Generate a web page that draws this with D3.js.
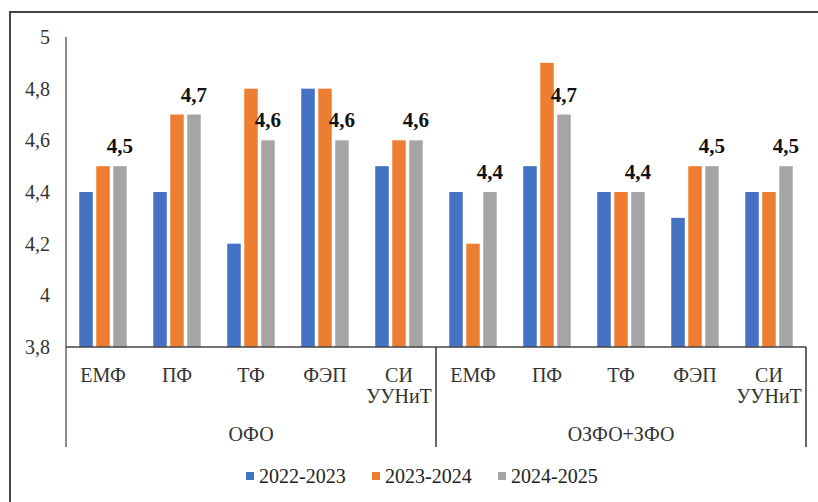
<!DOCTYPE html>
<html>
<head>
<meta charset="utf-8">
<script src="https://cdn.jsdelivr.net/npm/d3@7"></script>
<style>
  body { margin: 0; background: #fff; }
</style>
</head>
<body>
<div id="chart"></div>
<script>
// Data
const groups = ["ОФО", "ОЗФО+ЗФО"];
const categories = ["ЕМФ", "ПФ", "ТФ", "ФЭП", "СИ\nУУНиТ"];
const series = ["2022-2023", "2023-2024", "2024-2025"];
const colors = ["#4472C4", "#ED7D31", "#A5A5A5"];
const yTicks = [3.8, 4, 4.2, 4.4, 4.6, 4.8, 5];

// values per group, per category: [2022-2023, 2023-2024, 2024-2025]
const valuesOFO = [
    [4.4, 4.5, 4.5],
    [4.4, 4.7, 4.7],
    [4.2, 4.8, 4.6],
    [4.8, 4.8, 4.6],
    [4.5, 4.6, 4.6]
];
const valuesOZFO = [
    [4.4, 4.2, 4.4],
    [4.5, 4.9, 4.7],
    [4.4, 4.4, 4.4],
    [4.3, 4.5, 4.5],
    [4.4, 4.4, 4.5]
];

const width = 818;
const height = 502;
const plotLeft = 66, plotRight = 806, plotTop = 37, plotBottom = 347, axisDrop = 447;
const serif = "'Liberation Serif', 'DejaVu Serif', 'Times New Roman', serif";

const rows = [];
[valuesOFO, valuesOZFO].forEach((vals, g) => {
    vals.forEach((v, c) => rows.push({ key: g + "-" + c, group: g, cat: categories[c], values: v }));
});

const svg = d3.select("#chart")
    .append("svg")
    .attr("width", width)
    .attr("height", height)
    .attr("font-family", serif)
    .style("font-family", serif);

// outer frame (top and left only visible)
svg.append("path")
    .attr("d", `M10,${height} V12 H${width}`)
    .attr("fill", "none")
    .attr("stroke", "#444")
    .attr("stroke-width", 2);

const x = d3.scaleBand()
    .domain(rows.map(d => d.key))
    .range([plotLeft, plotRight]);

const xInner = d3.scaleBand()
    .domain(series)
    .range([0, x.bandwidth()])
    .paddingInner(0.206)
    .paddingOuter(0.78);

const y = d3.scaleLinear()
    .domain([3.8, 5])
    .range([plotBottom, plotTop]);

const fmt = v => String(v).replace(".", ",");

// y tick labels
svg.append("g")
    .selectAll("text")
    .data(yTicks)
    .join("text")
    .attr("x", 50)
    .attr("y", d => y(d))
    .attr("dy", "0.35em")
    .attr("text-anchor", "end")
    .attr("fill", "#333")
    .style("font-size", "20px")
    .text(d => fmt(d));

// bars
const cat = svg.append("g")
    .selectAll("g")
    .data(rows)
    .join("g")
    .attr("transform", d => `translate(${x(d.key)},0)`);

cat.selectAll("rect")
    .data(d => d.values.map((v, i) => ({ s: series[i], v, i })))
    .join("rect")
    .attr("x", d => xInner(d.s))
    .attr("y", d => y(d.v))
    .attr("width", xInner.bandwidth())
    .attr("height", d => y(3.8) - y(d.v))
    .attr("fill", d => colors[d.i]);

// data labels above the 2024-2025 bars
cat.append("text")
    .attr("x", xInner(series[2]) + xInner.bandwidth() / 2)
    .attr("y", d => y(d.values[2]) - 13)
    .attr("text-anchor", "middle")
    .attr("fill", "#111")
    .style("font-size", "21px")
    .style("font-weight", "bold")
    .text(d => fmt(d.values[2]));

// y axis line (extends down through the category area)
svg.append("line")
    .attr("x1", plotLeft).attr("x2", plotLeft)
    .attr("y1", plotTop).attr("y2", axisDrop)
    .attr("stroke", "#666").attr("stroke-width", 1.5);

// x axis line
svg.append("line")
    .attr("x1", plotLeft).attr("x2", plotRight)
    .attr("y1", plotBottom).attr("y2", plotBottom)
    .attr("stroke", "#444").attr("stroke-width", 1.5);

// group separators
const groupEdges = [x(rows[5].key), plotRight];
svg.append("g")
    .selectAll("line")
    .data(groupEdges)
    .join("line")
    .attr("x1", d => d).attr("x2", d => d)
    .attr("y1", plotBottom).attr("y2", axisDrop)
    .attr("stroke", "#333").attr("stroke-width", 1.5);

// category labels
const catLabels = svg.append("g")
    .selectAll("text")
    .data(rows)
    .join("text")
    .attr("x", d => x(d.key) + x.bandwidth() / 2)
    .attr("y", 382)
    .attr("text-anchor", "middle")
    .attr("fill", "#333")
    .style("font-size", "20px");

catLabels.selectAll("tspan")
    .data(d => d.cat.split("\n"))
    .join("tspan")
    .attr("x", function () { return d3.select(this.parentNode).attr("x"); })
    .attr("dy", (d, i) => i ? 21 : 0)
    .text(d => d);

// group labels
svg.append("g")
    .selectAll("text")
    .data(groups)
    .join("text")
    .attr("x", (d, g) => {
        const keys = rows.filter(r => r.group === g).map(r => r.key);
        return (x(keys[0]) + x(keys[keys.length - 1]) + x.bandwidth()) / 2;
    })
    .attr("y", 441)
    .attr("text-anchor", "middle")
    .attr("fill", "#333")
    .style("font-size", "20px")
    .text(d => d);

// legend
const legendX = [246, 372, 498];
const legend = svg.append("g")
    .selectAll("g")
    .data(series)
    .join("g")
    .attr("transform", (d, i) => `translate(${legendX[i]},476)`);

legend.append("rect")
    .attr("x", 0).attr("y", -4)
    .attr("width", 8).attr("height", 8)
    .attr("fill", (d, i) => colors[i]);

legend.append("text")
    .attr("x", 13)
    .attr("dy", "0.35em")
    .attr("fill", "#222")
    .style("font-size", "20px")
    .text(d => d);
</script>
</body>
</html>
